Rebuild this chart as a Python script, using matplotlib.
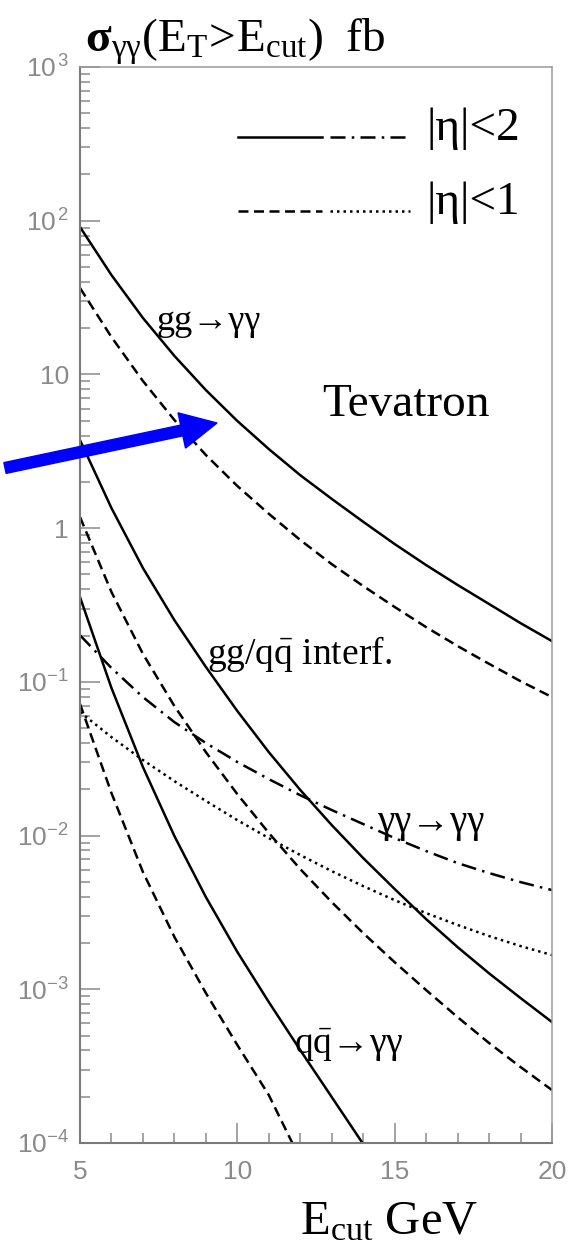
import numpy as np
import matplotlib.pyplot as plt
from matplotlib.patches import FancyArrow
from matplotlib.transforms import IdentityTransform
from matplotlib.ticker import FixedLocator, FixedFormatter, LogLocator, NullFormatter, MultipleLocator

plt.rcParams['mathtext.fontset'] = 'custom'
plt.rcParams['mathtext.rm'] = 'Liberation Serif'
plt.rcParams['mathtext.it'] = 'Liberation Serif:italic'
plt.rcParams['mathtext.bf'] = 'Liberation Serif:bold'

# E_cut grid (GeV)
e_cut = [5, 6, 7, 8, 9, 10, 11, 12, 13, 14, 15, 16, 17, 18, 19, 20]

# gg -> yy box
gg_eta2 = [91.0, 44.3, 23.3, 13.2, 7.91, 4.98, 3.27, 2.21, 1.55, 1.10, 0.788, 0.575, 0.427, 0.321, 0.241, 0.184]
gg_eta1 = [36.5, 17.5, 9.06, 5.05, 2.99, 1.88, 1.24, 0.837, 0.583, 0.420, 0.307, 0.227, 0.171, 0.131, 0.101, 0.0796]

# gg/qqbar interference
int_eta2 = [3.74, 1.35, 0.55, 0.252, 0.125, 0.0646, 0.0349, 0.0198, 0.0117, 0.00714,
            0.00449, 0.00286, 0.00188, 0.00127, 0.000877, 0.000612]
int_eta1 = [1.18, 0.384, 0.152, 0.0696, 0.0349, 0.0186, 0.0104, 0.00605, 0.00369, 0.00232,
            0.00150, 0.000988, 0.000659, 0.000447, 0.000312, 0.000221]

# qqbar -> yy (falls off the bottom early)
e_qq2 = [5, 6, 7, 8, 9, 10, 11, 12, 13, 14]
qq_eta2 = [0.356, 0.0912, 0.0279, 0.00993, 0.00398, 0.00175, 0.000826, 0.000402, 0.000199, 0.0000984]
e_qq1 = [5, 6, 7, 8, 9, 10, 11, 12]
qq_eta1 = [0.0718, 0.0189, 0.00579, 0.00219, 0.000945, 0.000434, 0.000205, 0.0000785]

# yy -> yy
aa_eta2 = [0.201, 0.123, 0.0796, 0.0547, 0.0400, 0.0301, 0.0233, 0.0183, 0.01466, 0.01188,
           0.00963, 0.00793, 0.00662, 0.00570, 0.00498, 0.00442]
aa_eta1 = [0.0636, 0.0437, 0.0310, 0.0226, 0.0168, 0.0126, 0.00963, 0.00747, 0.00587, 0.00469,
           0.00380, 0.00313, 0.00262, 0.00222, 0.00191, 0.00167]

ytick_vals = [1e3, 1e2, 1e1, 1e0, 1e-1, 1e-2, 1e-3, 1e-4]
ytick_text = [r'$\mathregular{10^{\,3}}$', r'$\mathregular{10^{\,2}}$', '10', '1',
              r'$\mathregular{10^{-1}}$', r'$\mathregular{10^{-2}}$',
              r'$\mathregular{10^{-3}}$', r'$\mathregular{10^{-4}}$']
xtick_vals = [5, 10, 15, 20]

W, H = 569, 1244
fig = plt.figure(figsize=(W / 100, H / 100), dpi=100)
ax = fig.add_axes([80 / W, 101 / H, 472 / W, 1076 / H])

lw = 1.8
dash = (0, (4, 2.2))
dashdot = (0, (6, 2.5, 1, 2.5))
dot = (0, (1, 1.6))

ax.plot(e_cut, gg_eta2, color='black', lw=lw)
ax.plot(e_cut, gg_eta1, color='black', lw=lw, linestyle=dash)
ax.plot(e_cut, int_eta2, color='black', lw=lw)
ax.plot(e_cut, int_eta1, color='black', lw=lw, linestyle=dash)
ax.plot(e_qq2, qq_eta2, color='black', lw=lw)
ax.plot(e_qq1, qq_eta1, color='black', lw=lw, linestyle=dash)
ax.plot(e_cut, aa_eta2, color='black', lw=lw, linestyle=dashdot)
ax.plot(e_cut, aa_eta1, color='black', lw=lw, linestyle=dot)

ax.set_yscale('log')
ax.set_xlim(5, 20)
ax.set_ylim(1e-4, 1e3)

grey = '#8a8a8a'
ax.yaxis.set_major_locator(FixedLocator(ytick_vals))
ax.yaxis.set_major_formatter(FixedFormatter(ytick_text))
ax.yaxis.set_minor_locator(LogLocator(base=10, subs=np.arange(2, 10)))
ax.yaxis.set_minor_formatter(NullFormatter())
ax.xaxis.set_major_locator(FixedLocator(xtick_vals))
ax.xaxis.set_minor_locator(MultipleLocator(1))

ax.tick_params(which='both', direction='in', left=True, bottom=True, right=False, top=False,
               color=grey, labelcolor=grey, width=1.1)
ax.tick_params(which='major', length=14.5)
ax.tick_params(which='minor', length=7.5)
ax.tick_params(axis='y', pad=8)
ax.tick_params(axis='x', pad=12)
for lab in ax.get_xticklabels() + ax.get_yticklabels():
    lab.set_fontfamily('Liberation Sans')
    lab.set_fontsize(19)
for s in ax.spines.values():
    s.set_color('#9a9a9a')
    s.set_linewidth(1.1)
ax.spines['left'].set_color('#7a7a7a')
ax.spines['left'].set_linewidth(1.5)
ax.spines['bottom'].set_color('#7a7a7a')
ax.spines['bottom'].set_linewidth(1.5)

serif = ['Liberation Serif', 'DejaVu Serif']

# y title and x title
fig.text(85 / W, 1 - 52 / H,
         r'$\mathbf{\sigma}_{\mathrm{\gamma\gamma}}\mathrm{(E_T\!>\!E_{cut})\ \ fb}$',
         fontsize=34, ha='left', va='baseline')
fig.text(300 / W, 1 - 1234 / H, r'$\mathrm{E_{cut}}$ GeV', fontsize=35, family=serif,
         ha='left', va='baseline')

# legend
t = ax.transAxes
def frac(px, py):
    return (px - 80) / 472, (1143 - py) / 1076

for (x0, x1), y, ls in [((238, 322), 137, '-'), ((330, 410), 137, dashdot),
                         ((238, 322), 211, dash), ((330, 410), 211, dot)]:
    a, b = frac(x0, y)
    c, _ = frac(x1, y)
    ax.plot([a, c], [b, b], transform=t, color='black', lw=lw, linestyle=ls, clip_on=False)
fig.text(427 / W, 1 - 140 / H, '|η|<2', fontsize=34, family=serif, va='baseline')
fig.text(427 / W, 1 - 214 / H, '|η|<1', fontsize=34, family=serif, va='baseline')

# curve labels
fig.text(157 / W, 1 - 330 / H, 'gg→γγ', fontsize=26, family=serif, va='baseline')
fig.text(322 / W, 1 - 416 / H, 'Tevatron', fontsize=34, family=serif, va='baseline')
fig.text(207 / W, 1 - 664 / H, r'gg/q$\bar{\mathrm{q}}$ interf.', fontsize=27, family=serif,
         va='baseline')
fig.text(377 / W, 1 - 832 / H, 'γγ→γγ', fontsize=28, family=serif, va='baseline')
fig.text(294 / W, 1 - 1054 / H, r'q$\bar{\mathrm{q}}$→γγ', fontsize=27, family=serif,
         va='baseline')

# blue pointer arrow
arrow = FancyArrow(5, H - 468, 212, 45, width=11, head_width=36, head_length=36,
                   length_includes_head=True, color='#0000ff', transform=IdentityTransform())
fig.add_artist(arrow)

fig.savefig('out.png', dpi=100)
